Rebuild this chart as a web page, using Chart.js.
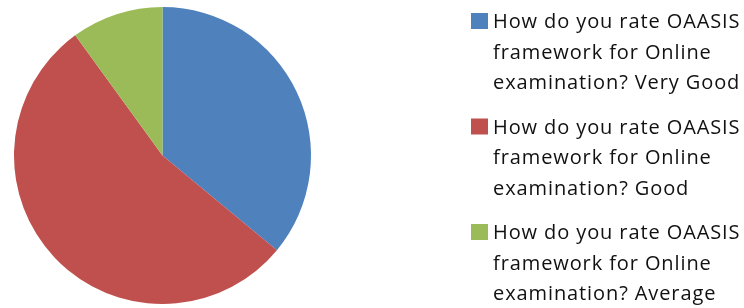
<!DOCTYPE html>
<html>
<head>
<meta charset="utf-8">
<script src="https://cdn.jsdelivr.net/npm/chart.js@4"></script>
<style>
  html, body { margin: 0; padding: 0; background: #fff; }
  #wrap { width: 744px; height: 308px; }
</style>
</head>
<body>
<div id="wrap"><canvas id="myChart" width="744" height="308"></canvas></div>
<script>
(() => {
  "use strict";

  // data (share of answers, %)
  const categories = [
    ["How do you rate OAASIS", "framework for Online", "examination? Very Good"],
    ["How do you rate OAASIS", "framework for Online", "examination? Good"],
    ["How do you rate OAASIS", "framework for Online", "examination? Average"],
  ];
  const values = [36, 54, 10];
  const colors = ["#4F81BD", "#C0504D", "#9BBB59"];

  // legend drawn by hand so the labels wrap like the original
  const sideLegend = {
    id: "sideLegend",
    afterDraw(chart) {
      const c = chart.ctx;
      const labels = chart.data.labels;
      const bg = chart.data.datasets[0].backgroundColor;
      c.save();
      c.font = '20px "Open Sans"';
      c.letterSpacing = "0.9px";
      c.textBaseline = "alphabetic";
      labels.forEach((lines, i) => {
        const base = 28 + i * 105.5;
        c.fillStyle = bg[i];
        c.fillRect(471, base - 15, 17, 16);
        c.fillStyle = "#111";
        lines.forEach((t, j) => {
          c.fillText(t, 493, base + j * 30.5);
        });
      });
      c.restore();
    },
  };

  const ctx = document.getElementById("myChart");
  // eslint-disable-next-line no-unused-vars
  const myChart = new Chart(ctx, {
    type: "pie",
    data: {
      labels: categories,
      datasets: [
        {
          data: values,
          backgroundColor: colors,
          borderWidth: 0,
        },
      ],
    },
    options: {
      responsive: false,
      animation: false,
      layout: {
        padding: { left: 14, right: 433, top: 7, bottom: 4 },
      },
      plugins: {
        legend: { display: false },
        tooltip: { enabled: true },
      },
    },
    plugins: [sideLegend],
  });
})();
</script>
</body>
</html>
